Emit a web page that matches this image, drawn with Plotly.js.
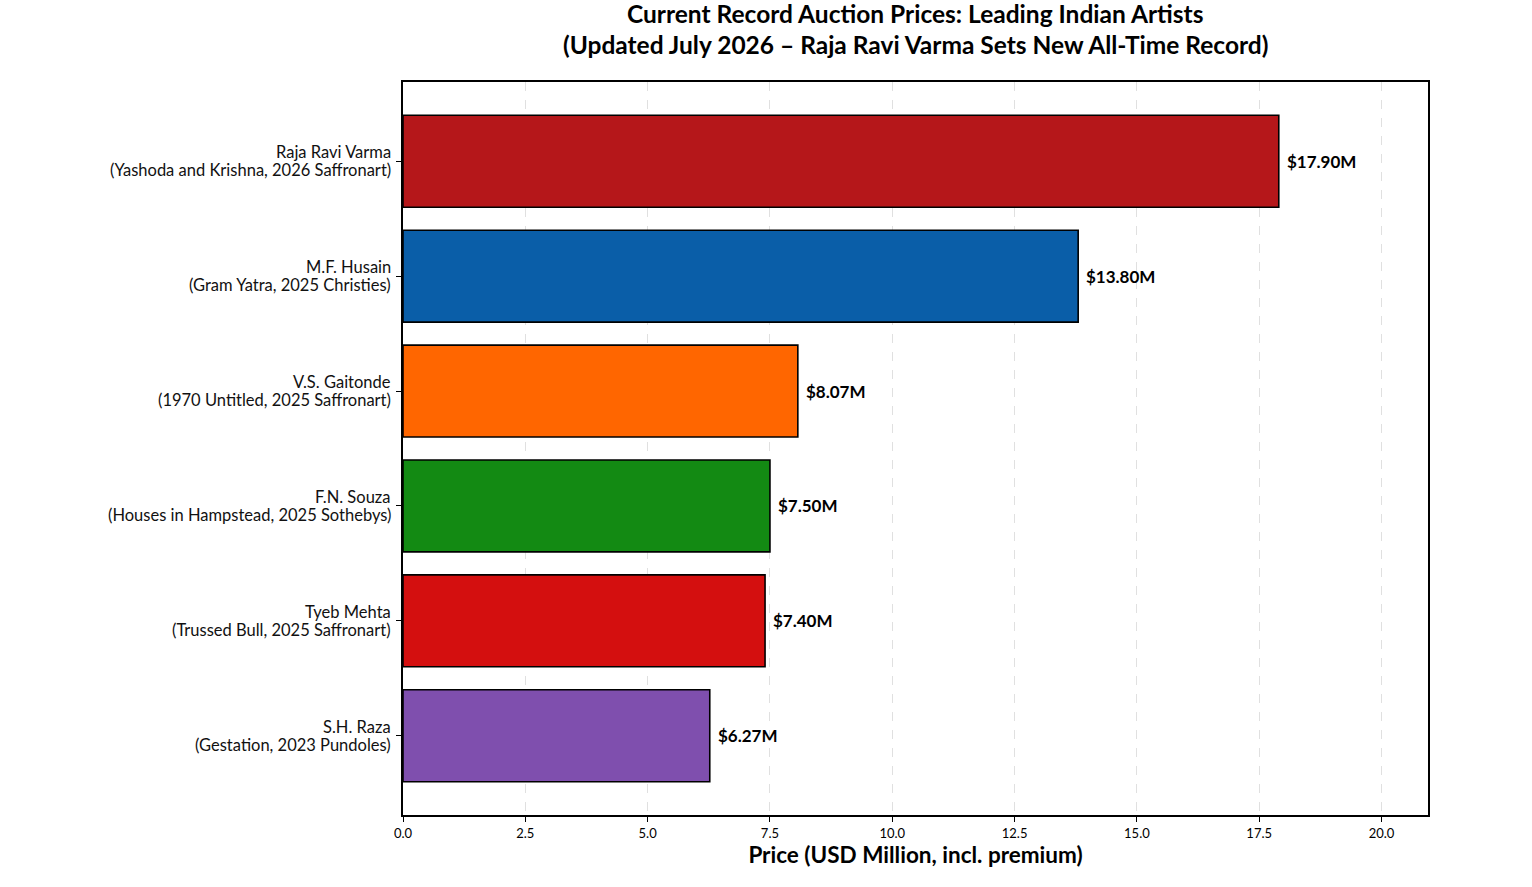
<!DOCTYPE html>
<html>
<head>
<meta charset="utf-8">
<script src="https://cdn.plot.ly/plotly-3.0.1.min.js"></script>
<style>html,body{margin:0;padding:0;background:#fff;}#chart{width:1532px;height:887px;}</style>
</head>
<body>
<div id="chart"></div>
<script>
const artists = ["Raja Ravi Varma", "M.F. Husain", "V.S. Gaitonde", "F.N. Souza", "Tyeb Mehta", "S.H. Raza"];
const works = ["(Yashoda and Krishna, 2026 Saffronart)", "(Gram Yatra, 2025 Christies)", "(1970 Untitled, 2025 Saffronart)", "(Houses in Hampstead, 2025 Sothebys)", "(Trussed Bull, 2025 Saffronart)", "(Gestation, 2023 Pundoles)"];
const prices = [17.90, 13.80, 8.07, 7.50, 7.40, 6.27];
const barColors = ["#b5171a", "#0a5ea8", "#ff6600", "#138a13", "#d40f0f", "#7f4fae"];
const xTicks = [0, 2.5, 5, 7.5, 10, 12.5, 15, 17.5, 20];
const xTickLabels = ["0.0", "2.5", "5.0", "7.5", "10.0", "12.5", "15.0", "17.5", "20.0"];
const titleLines = ["Current Record Auction Prices: Leading Indian Artists", "(Updated July 2026 – Raja Ravi Varma Sets New All-Time Record)"];

const labels = artists.map((a, i) => a + "<br>" + works[i]);
const font = "Lato, 'Open Sans', sans-serif";

const trace = {
  type: "bar",
  orientation: "h",
  y: labels,
  x: prices,
  width: 0.8,
  marker: { color: barColors, line: { color: "#000", width: 1.6 } },
  hoverinfo: "x+y"
};

const annotations = [];
prices.forEach((p, i) => {
  annotations.push({
    x: p, y: labels[i], xref: "x", yref: "y",
    text: "<b>$" + p.toFixed(2) + "M</b>",
    showarrow: false, xanchor: "left", yanchor: "middle", xshift: 6,
    font: { family: font, size: 17, color: "#000" }
  });
  annotations.push({
    x: 0, y: labels[i], xref: "paper", yref: "y",
    text: artists[i],
    showarrow: false, xanchor: "right", yanchor: "middle", xshift: -10, yshift: 9,
    font: { family: font, size: 16.5, color: "#111" }
  });
  annotations.push({
    x: 0, y: labels[i], xref: "paper", yref: "y",
    text: works[i],
    showarrow: false, xanchor: "right", yanchor: "middle", xshift: -10, yshift: -9,
    font: { family: font, size: 16.5, color: "#111" }
  });
});

annotations.push({
  x: 0.5, y: 1.0928, xref: "paper", yref: "paper",
  text: "<b>" + titleLines[0] + "</b>",
  showarrow: false, xanchor: "center", yanchor: "middle",
  font: { family: font, size: 24.5, color: "#000" }
});
annotations.push({
  x: 0.5, y: 1.0505, xref: "paper", yref: "paper",
  text: "<b>" + titleLines[1] + "</b>",
  showarrow: false, xanchor: "center", yanchor: "middle",
  font: { family: font, size: 24.5, color: "#000" }
});

const layout = {
  width: 1532, height: 887,
  margin: { l: 403, r: 104, t: 82, b: 72 },
  paper_bgcolor: "#fff", plot_bgcolor: "#fff",
  xaxis: {
    range: [0, 20.95],
    tickvals: xTicks, ticktext: xTickLabels,
    showgrid: true, gridcolor: "rgba(0,0,0,0.12)", griddash: "dash", gridwidth: 1,
    zeroline: false,
    showline: true, linecolor: "#000", linewidth: 2, mirror: true,
    ticks: "outside", ticklen: 5, tickcolor: "#000",
    tickfont: { family: font, size: 13, color: "#000" },
    layer: "above traces",
    title: { text: "<b>Price (USD Million, incl. premium)</b>", font: { family: font, size: 22.5, color: "#000" }, standoff: 8 }
  },
  yaxis: {
    autorange: false,
    range: [5.69, -0.69],
    type: "category",
    showgrid: false, zeroline: false,
    showline: true, linecolor: "#000", linewidth: 2, mirror: true,
    ticks: "outside", ticklen: 5, tickcolor: "#000",
    showticklabels: false
  },
  annotations: annotations,
  showlegend: false,
  bargap: 0.2
};

Plotly.newPlot("chart", [trace], layout, { displayModeBar: false, staticPlot: true });
</script>
</body>
</html>
